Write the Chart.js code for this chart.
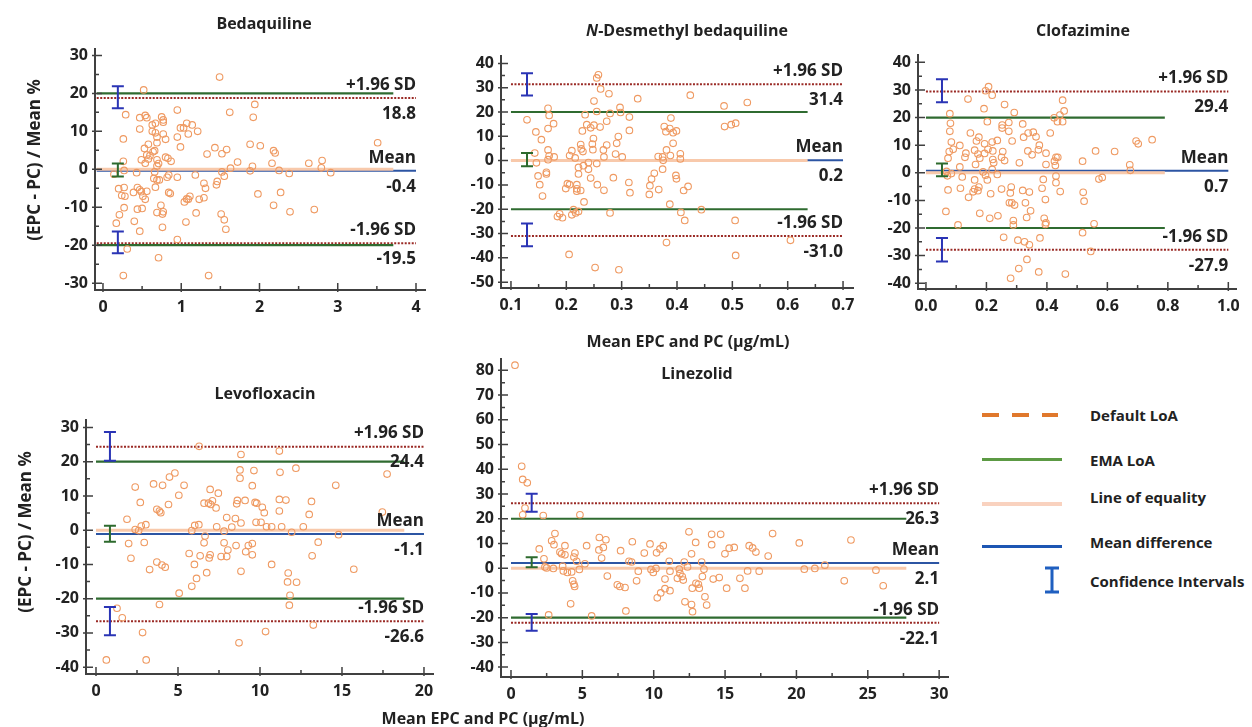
<!DOCTYPE html>
<html>
<head>
<meta charset="utf-8">
<script src="https://cdn.jsdelivr.net/npm/chart.js@4"></script>
<style>
  body { margin:0; background:#fff; width:1252px; height:727px; position:relative; overflow:hidden;
         font-family:"Open Sans","DejaVu Sans",sans-serif; color:#222; }
  canvas { position:absolute; }
  .t  { position:absolute; font-weight:700; font-size:16px; white-space:nowrap; transform:translate(-50%,-50%); }
  .yt { position:absolute; font-weight:700; font-size:17px; white-space:nowrap; transform:translate(-50%,-50%) rotate(-90deg); }
  .ln { position:absolute; left:982px; width:80px; height:3px; }
  .lt { position:absolute; left:1090px; font-weight:700; font-size:15px; white-space:nowrap; transform:translateY(-50%); }
</style>
</head>
<body>
<canvas id="bdq"></canvas>
<canvas id="ndb"></canvas>
<canvas id="cfz"></canvas>
<canvas id="lfx"></canvas>
<canvas id="lzd"></canvas>

<div class="t" style="left:264px;top:23px">Bedaquiline</div>
<div class="t" style="left:687px;top:30px"><i>N</i>-Desmethyl bedaquiline</div>
<div class="t" style="left:1083px;top:30px">Clofazimine</div>
<div class="t" style="left:265px;top:393px">Levofloxacin</div>
<div class="t" style="left:688px;top:341px">Mean EPC and PC (μg/mL)</div>
<div class="t" style="left:697px;top:373px">Linezolid</div>
<div class="t" style="left:483px;top:718px">Mean EPC and PC (μg/mL)</div>
<div class="yt" style="left:33px;top:160px">(EPC - PC) / Mean %</div>
<div class="yt" style="left:24px;top:532px">(EPC - PC) / Mean %</div>

<!-- legend -->
<div class="ln" style="top:413px;width:76px;height:4px;background:repeating-linear-gradient(90deg,#e0782c 0 17px,transparent 17px 30px)"></div>
<div class="ln" style="top:458px;background:#5c9a44"></div>
<div class="ln" style="top:502px;height:4px;background:#f9d2bf"></div>
<div class="ln" style="top:545px;background:#1d56b3"></div>
<svg style="position:absolute;left:1044px;top:566px" width="16" height="28">
  <path d="M1 2H15M8 2V26M1 26H15" stroke="#1f5fc0" stroke-width="3" fill="none"/>
</svg>
<div class="lt" style="top:415px">Default LoA</div>
<div class="lt" style="top:460px">EMA LoA</div>
<div class="lt" style="top:497px">Line of equality</div>
<div class="lt" style="top:542px">Mean difference</div>
<div class="lt" style="top:581px">Confidence Intervals</div>

<script>
/* ===== data ===== */
const limitNames = ['+1.96 SD', 'Mean', '-1.96 SD'];
const emaLimits = [20, -20];

const bdqPoints = [[1.49,24.3],[0.52,20.9],[0.29,14.4],[0.47,13.6],[0.54,14.2],[0.56,13.6],[0.95,15.6],[1.62,15.0],[1.94,17.1],[1.92,13.7],[0.75,13.8],[0.77,13.0],[0.77,12.4],[0.67,12.1],[0.63,11.7],[1.07,12.1],[1.14,11.7],[0.99,10.9],[1.03,10.9],[1.21,10.0],[0.47,10.6],[0.63,10.0],[0.67,9.6],[0.77,9.3],[0.95,8.5],[1.09,9.3],[0.26,8.0],[0.80,7.9],[0.69,8.5],[0.69,7.0],[0.58,6.6],[3.51,7.0],[1.88,6.6],[2.01,6.2],[0.99,5.9],[1.43,5.7],[1.58,5.2],[2.18,4.9],[2.20,4.3],[0.53,5.5],[0.66,4.9],[0.64,4.6],[0.56,3.8],[0.60,3.6],[0.58,2.7],[1.33,4.0],[1.52,4.1],[0.80,3.2],[0.83,2.9],[0.87,2.1],[0.26,2.1],[0.49,2.5],[0.54,1.6],[0.69,2.5],[0.71,1.5],[0.69,0.9],[1.72,1.9],[2.16,1.6],[2.63,1.6],[2.80,2.3],[1.91,0.8],[1.88,-0.4],[1.63,0.3],[2.79,0.4],[2.25,-0.3],[2.91,-0.9],[2.38,-1.1],[0.14,-1.3],[0.43,-0.9],[0.66,-0.7],[1.52,-0.7],[1.55,-1.8],[1.18,-1.5],[0.84,-1.5],[0.82,-2.1],[0.95,-2.1],[0.65,-2.4],[0.69,-2.8],[0.72,-2.8],[0.27,-0.3],[1.29,-3.7],[1.31,-5.0],[1.46,-3.2],[1.45,-4.1],[0.67,-4.7],[0.20,-5.1],[0.27,-4.8],[0.44,-4.8],[0.47,-5.4],[0.49,-5.9],[0.39,-6.1],[0.56,-5.8],[0.84,-6.1],[0.86,-6.4],[0.28,-7.1],[0.24,-6.9],[0.51,-7.1],[0.54,-7.9],[1.11,-7.1],[1.07,-7.8],[1.04,-8.6],[1.09,-7.9],[1.29,-7.5],[1.23,-7.9],[1.98,-6.5],[2.27,-6.1],[0.74,-9.5],[2.18,-9.5],[0.27,-10.1],[0.44,-10.5],[0.50,-10.3],[0.69,-11.4],[0.77,-11.2],[0.76,-11.8],[1.19,-11.5],[1.51,-11.8],[2.39,-11.2],[2.70,-10.6],[0.21,-12.0],[1.55,-13.3],[1.06,-13.9],[0.40,-13.7],[0.17,-14.2],[0.76,-15.3],[1.57,-15.8],[0.47,-16.3],[0.95,-18.5],[0.31,-21.0],[0.71,-23.3],[0.26,-28.0],[1.35,-28.0]];
const bdqLimits = [18.8, -0.4, -19.5];
const bdqCI = [[16.1, 21.9], [-1.9, 1.5], [-22.1, -16.4]];
const bdqXTicks = [0, 1, 2, 3, 4];
const bdqYTicks = [-30, -20, -10, 0, 10, 20, 30];

const ndbPoints = [[0.258,35.3],[0.255,34.0],[0.262,29.5],[0.277,27.5],[0.329,25.5],[0.424,26.9],[0.25,24.5],[0.485,22.5],[0.527,23.9],[0.167,21.5],[0.297,21.9],[0.255,20.2],[0.279,19.4],[0.298,19.8],[0.169,18.6],[0.234,18.9],[0.129,16.8],[0.314,17.9],[0.389,17.5],[0.273,16.2],[0.177,15.2],[0.167,13.2],[0.237,14.8],[0.25,14.6],[0.261,13.8],[0.244,13.5],[0.229,12.2],[0.377,14.0],[0.387,13.2],[0.486,14.0],[0.498,14.8],[0.506,15.4],[0.314,12.4],[0.38,11.9],[0.393,11.5],[0.399,12.2],[0.145,11.8],[0.155,8.6],[0.249,9.1],[0.294,9.9],[0.291,7.1],[0.226,6.6],[0.247,6.8],[0.273,6.4],[0.393,7.1],[0.227,4.8],[0.23,3.7],[0.248,4.5],[0.267,4.4],[0.167,4.4],[0.21,4.1],[0.381,4.4],[0.143,3.1],[0.169,2.0],[0.206,2.1],[0.178,1.5],[0.216,1.1],[0.268,1.5],[0.289,2.7],[0.301,1.5],[0.366,1.7],[0.374,1.5],[0.388,2.1],[0.406,2.8],[0.167,0.4],[0.375,0.1],[0.406,0.7],[0.255,-1.2],[0.24,-0.8],[0.146,-0.9],[0.222,-2.8],[0.231,-2.1],[0.164,-4.8],[0.164,-5.5],[0.24,-3.6],[0.374,-3.5],[0.222,-5.5],[0.359,-5.2],[0.244,-7.2],[0.149,-6.3],[0.285,-7.0],[0.398,-6.1],[0.399,-7.5],[0.354,-7.6],[0.152,-9.9],[0.256,-9.9],[0.202,-9.5],[0.206,-9.9],[0.219,-9.9],[0.313,-9.0],[0.315,-13.2],[0.219,-11.6],[0.219,-12.6],[0.226,-12.3],[0.199,-11.5],[0.268,-12.2],[0.367,-11.9],[0.351,-10.3],[0.412,-12.3],[0.42,-10.6],[0.35,-13.9],[0.157,-14.6],[0.232,-17.0],[0.387,-17.9],[0.444,-20.2],[0.213,-20.2],[0.222,-20.9],[0.217,-21.5],[0.21,-22.3],[0.188,-21.9],[0.193,-23.5],[0.184,-23.0],[0.279,-21.5],[0.407,-21.3],[0.414,-24.6],[0.505,-24.6],[0.381,-33.7],[0.605,-32.8],[0.205,-38.6],[0.506,-39.0],[0.252,-44.0],[0.295,-44.9]];
const ndbLimits = [31.4, 0.2, -31.0];
const ndbCI = [[26.8, 35.9], [-2.3, 3.1], [-35.2, -25.9]];
const ndbXTicks = [0.1, 0.2, 0.3, 0.4, 0.5, 0.6, 0.7];
const ndbYTicks = [-50, -40, -30, -20, -10, 0, 10, 20, 30, 40];

const cfzPoints = [[0.207,31.2],[0.197,29.7],[0.219,28.1],[0.139,26.7],[0.452,26.3],[0.26,24.7],[0.192,23.2],[0.457,22.4],[0.079,21.4],[0.292,21.8],[0.443,20.9],[0.424,19.9],[0.435,18.5],[0.452,18.5],[0.081,17.9],[0.203,18.5],[0.274,18.2],[0.32,17.7],[0.252,17.3],[0.252,16.2],[0.079,15.0],[0.147,14.4],[0.274,15.0],[0.323,12.9],[0.338,14.4],[0.355,14.7],[0.364,13.0],[0.411,14.4],[0.175,12.9],[0.167,11.5],[0.236,11.7],[0.219,11.1],[0.084,11.1],[0.112,9.9],[0.194,10.5],[0.285,11.5],[0.375,10.0],[0.695,11.5],[0.702,10.5],[0.748,12.0],[0.09,8.5],[0.077,7.7],[0.161,8.2],[0.205,8.5],[0.221,7.9],[0.194,7.0],[0.372,8.3],[0.337,7.9],[0.132,7.1],[0.254,7.7],[0.172,6.8],[0.178,5.3],[0.129,5.6],[0.073,5.3],[0.351,6.5],[0.397,7.1],[0.561,7.9],[0.624,7.7],[0.25,5.6],[0.26,4.4],[0.221,4.8],[0.224,3.6],[0.309,3.6],[0.164,3.0],[0.397,3.0],[0.43,5.6],[0.436,5.6],[0.425,4.2],[0.428,2.6],[0.518,4.2],[0.674,2.9],[0.676,0.9],[0.112,2.1],[0.219,1.2],[0.068,0.5],[0.084,-0.3],[0.189,0.3],[0.197,-0.9],[0.071,-1.1],[0.236,-0.6],[0.12,-1.5],[0.203,-2.6],[0.43,-1.2],[0.43,-3.6],[0.572,-2.3],[0.583,-1.7],[0.388,-2.4],[0.161,-2.6],[0.161,-5.9],[0.175,-5.2],[0.172,-6.5],[0.156,-6.9],[0.073,-6.2],[0.114,-5.6],[0.25,-5.9],[0.282,-5.2],[0.32,-6.4],[0.384,-5.6],[0.342,-7.0],[0.279,-7.3],[0.214,-7.6],[0.444,-6.8],[0.52,-7.1],[0.141,-8.9],[0.395,-9.7],[0.523,-10.3],[0.276,-10.9],[0.284,-10.9],[0.329,-10.9],[0.293,-11.7],[0.346,-13.8],[0.333,-16.2],[0.066,-14.0],[0.178,-14.7],[0.238,-15.6],[0.211,-16.5],[0.391,-16.5],[0.289,-17.3],[0.397,-18.1],[0.289,-18.9],[0.395,-18.7],[0.556,-18.5],[0.106,-18.9],[0.518,-21.7],[0.257,-23.4],[0.304,-24.4],[0.377,-23.6],[0.326,-25.0],[0.342,-26.1],[0.545,-28.5],[0.334,-31.4],[0.307,-34.7],[0.373,-35.9],[0.28,-38.2],[0.461,-36.7]];
const cfzLimits = [29.4, 0.7, -27.9];
const cfzCI = [[25.5, 33.9], [-1.3, 3.4], [-32.1, -23.6]];
const cfzXTicks = [0, 0.2, 0.4, 0.6, 0.8, 1.0];
const cfzYTicks = [-40, -30, -20, -10, 0, 10, 20, 30, 40];

const lfxPoints = [[6.29,24.5],[8.84,22.1],[11.18,23.1],[8.78,17.6],[9.63,17.4],[11.22,16.9],[12.19,18.1],[17.75,16.4],[4.81,16.7],[4.48,15.5],[8.78,15.2],[5.37,13.1],[3.51,13.5],[4.06,13.1],[2.39,12.6],[9.53,13.0],[14.62,13.1],[6.96,11.9],[7.46,10.8],[5.05,10.2],[4.42,7.5],[2.7,8.1],[3.71,6.1],[3.87,5.6],[3.95,5.1],[6.59,7.9],[6.86,7.9],[7.0,7.5],[7.1,8.6],[7.32,6.5],[8.62,8.7],[8.58,7.7],[9.09,8.7],[9.7,8.1],[9.8,7.9],[10.14,6.7],[10.26,5.1],[11.18,9.0],[11.58,8.8],[11.18,5.6],[13.14,8.4],[13.0,4.6],[17.46,5.3],[1.89,3.2],[6.02,1.4],[6.27,1.6],[3.04,1.6],[2.76,1.2],[2.39,0.2],[2.6,-0.1],[5.84,-0.1],[7.36,1.0],[7.97,3.7],[8.28,0.9],[7.81,-0.3],[8.5,3.4],[8.84,2.1],[9.76,2.3],[10.06,2.3],[10.4,1.0],[10.71,1.0],[11.32,1.0],[11.93,-0.6],[12.64,1.0],[14.79,-1.3],[6.65,-1.7],[6.59,-3.7],[7.81,-3.7],[8.04,-5.8],[8.54,-4.5],[9.29,-4.5],[9.53,-3.9],[9.13,-6.3],[13.55,-3.5],[1.99,-3.9],[2.94,-3.6],[5.68,-6.8],[6.35,-7.5],[6.96,-7.2],[6.9,-8.1],[7.63,-7.7],[7.97,-7.7],[9.53,-7.2],[13.18,-7.5],[2.13,-8.2],[6.0,-10.0],[6.13,-14.1],[6.75,-12.4],[3.71,-9.3],[4.02,-10.2],[4.22,-10.8],[3.27,-11.5],[8.84,-12.0],[10.71,-10.0],[11.72,-12.5],[11.68,-15.1],[12.23,-15.2],[15.72,-11.4],[5.84,-16.4],[5.07,-18.4],[11.83,-19.0],[11.79,-21.9],[3.87,-21.7],[1.28,-22.8],[1.6,-25.6],[2.84,-29.9],[10.34,-29.6],[13.25,-27.7],[8.72,-32.9],[0.63,-37.9],[3.06,-37.9]];
const lfxLimits = [24.4, -1.1, -26.6];
const lfxCI = [[20.3, 28.7], [-3.4, 1.3], [-30.7, -22.4]];
const lfxXTicks = [0, 5, 10, 15, 20];
const lfxYTicks = [-40, -30, -20, -10, 0, 10, 20, 30];

const lzdPoints = [[0.28,82.1],[0.75,41.2],[0.82,35.9],[1.14,34.5],[0.98,24.3],[0.82,21.6],[2.26,21.3],[4.83,21.6],[1.98,7.8],[3.08,14.0],[2.85,11.1],[3.01,9.5],[3.43,6.5],[3.55,5.8],[3.78,9.1],[3.78,5.4],[4.48,6.1],[4.41,4.5],[4.6,2.8],[5.3,9.1],[5.18,1.8],[2.31,3.8],[2.38,0.5],[2.5,0.1],[2.97,-0.1],[3.62,0.8],[3.67,-1.1],[3.95,-1.7],[4.25,-1.5],[4.79,-0.5],[4.32,-5.1],[4.41,-6.5],[4.46,-7.4],[4.18,-14.4],[2.64,-18.9],[5.65,-19.3],[6.19,12.4],[6.65,11.5],[6.16,7.4],[6.47,8.4],[6.35,4.1],[6.75,-3.2],[7.68,7.1],[8.27,2.8],[8.5,10.7],[8.45,2.5],[7.45,-6.7],[7.63,-7.4],[7.99,-7.8],[8.05,-17.3],[8.92,-1.2],[8.8,-5.1],[9.34,6.1],[9.74,9.8],[9.81,-0.5],[9.97,-1.7],[10.2,6.2],[10.44,7.8],[10.67,9.1],[10.16,-0.1],[10.79,-4.4],[11.09,2.8],[11.14,-1.2],[10.79,-8.3],[11.14,-9.1],[10.49,-10.0],[10.25,-12.0],[11.79,-0.4],[11.84,-2.1],[11.66,-4.1],[12.0,-3.4],[12.07,-4.8],[12.14,2.5],[12.19,-13.6],[12.47,14.7],[12.65,5.8],[12.37,0.5],[12.7,-8.1],[12.96,-6.1],[13.13,-6.5],[12.94,10.4],[12.65,-14.7],[12.72,-17.6],[13.19,-8.1],[13.36,2.5],[13.52,-0.4],[13.41,-3.4],[13.59,-11.6],[13.71,-14.9],[14.06,13.7],[14.06,9.5],[14.17,-4.4],[14.59,-3.8],[14.69,13.7],[14.99,5.8],[15.29,8.1],[15.64,8.4],[15.11,-8.1],[16.04,-4.1],[16.39,-8.1],[16.58,-1.1],[16.69,9.1],[16.93,8.2],[17.16,6.5],[17.39,-1.2],[18.02,4.9],[18.33,14.0],[20.2,10.2],[20.55,-0.4],[21.29,-0.1],[21.99,1.2],[23.35,-5.1],[23.82,11.4],[25.57,-0.8],[26.08,-7.1]];
const lzdLimits = [26.3, 2.1, -22.1];
const lzdCI = [[22.8, 30.1], [0.4, 4.4], [-25.3, -18.5]];
const lzdXTicks = [0, 5, 10, 15, 20, 25, 30];
const lzdYTicks = [-40, -30, -20, -10, 0, 10, 20, 30, 40, 50, 60, 70, 80];

/* ===== drawing ===== */
const FONT = '"Open Sans", "DejaVu Sans", sans-serif';
const AXIS = '#404040';
const PT = 10, PR = 10, YW = 55, XH = 36;

const seg = (y, x0, x1, color, w, dash) => ({
  data: [{ x: x0, y }, { x: x1, y }],
  showLine: true, borderColor: color, borderWidth: w, borderDash: dash || [],
  pointRadius: 0, order: 2,
});

// CI bars, limit labels, inward tick marks
const decor = {
  id: 'decor',
  afterDatasetsDraw(chart, args, o) {
    const { ctx, scales: { x, y } } = chart;
    ctx.save();
    o.ci.forEach(([lo, hi], i) => {
      const px = x.getPixelForValue(o.ciX);
      const y1 = y.getPixelForValue(lo), y2 = y.getPixelForValue(hi);
      ctx.strokeStyle = i === 1 ? '#2d6a2d' : '#2a34b5';
      ctx.lineWidth = 2;
      ctx.beginPath();
      ctx.moveTo(px, y1); ctx.lineTo(px, y2);
      ctx.moveTo(px - 6, y1); ctx.lineTo(px + 6, y1);
      ctx.moveTo(px - 6, y2); ctx.lineTo(px + 6, y2);
      ctx.stroke();
    });
    ctx.font = 'bold 17px ' + FONT;
    ctx.fillStyle = '#222';
    ctx.textAlign = 'right';
    ctx.textBaseline = 'middle';
    const tx = x.getPixelForValue(o.labelX);
    o.limits.forEach((v, i) => {
      const py = y.getPixelForValue(v);
      ctx.fillText(limitNames[i], tx, py - 13);
      ctx.fillText(v.toFixed(1), tx, py + 16);
    });
    ctx.restore();
  },
  afterDraw(chart) {
    const { ctx, chartArea: a, scales: { x, y } } = chart;
    ctx.save();
    ctx.strokeStyle = AXIS;
    ctx.lineWidth = 1.5;
    ctx.beginPath();
    const xv = x.ticks.map(t => t.value), yv = y.ticks.map(t => t.value);
    xv.forEach((v, i) => {
      const p = x.getPixelForValue(v);
      ctx.moveTo(p, a.bottom + 2); ctx.lineTo(p, a.bottom - 7);
      if (i < xv.length - 1) {
        const m = x.getPixelForValue((v + xv[i + 1]) / 2);
        ctx.moveTo(m, a.bottom); ctx.lineTo(m, a.bottom - 4);
      }
    });
    yv.forEach((v, i) => {
      const p = y.getPixelForValue(v);
      ctx.moveTo(a.left - 3, p); ctx.lineTo(a.left + 7, p);
      if (i < yv.length - 1) {
        const m = y.getPixelForValue((v + yv[i + 1]) / 2);
        ctx.moveTo(a.left, m); ctx.lineTo(a.left + 4, m);
      }
    });
    ctx.stroke();
    ctx.restore();
  },
};

function baChart(c) {
  const el = document.getElementById(c.id);
  const [l, t, r, b] = c.box;
  el.style.left = (l - YW) + 'px';
  el.style.top = (t - PT) + 'px';
  el.width = r - l + YW + PR;
  el.height = b - t + PT + XH;

  const tickFont = { family: FONT, size: 16, weight: 'bold' };
  return new Chart(el.getContext('2d'), {
    type: 'scatter',
    data: {
      datasets: [
        {
          data: c.points.map(([x, y]) => ({ x, y })),
          pointStyle: 'circle', pointRadius: 3.3, borderWidth: 1.1,
          borderColor: '#ef9a62', backgroundColor: 'rgba(0,0,0,0)', order: 0,
        },
        seg(0, c.start, c.emaEnd, '#f8c9ab', 3),
        seg(emaLimits[0], c.start, c.emaEnd, '#2f6b30', 2.2),
        seg(emaLimits[1], c.start, c.emaEnd, '#2f6b30', 2.2),
        seg(c.limits[0], c.start, c.labelX, '#9a2a25', 2, [2, 1.5]),
        seg(c.limits[2], c.start, c.labelX, '#9a2a25', 2, [2, 1.5]),
        seg(c.limits[1], c.start, c.labelX, '#2c55a3', 2),
      ],
    },
    options: {
      responsive: false,
      animation: false,
      layout: { padding: { top: PT, right: PR, left: 0, bottom: 0 } },
      plugins: {
        legend: { display: false },
        tooltip: { enabled: false },
        decor: { ci: c.ci, ciX: c.ciX, limits: c.limits, labelX: c.labelX },
      },
      scales: {
        x: {
          type: 'linear', min: c.x[0], max: c.x[1],
          afterBuildTicks: s => { s.ticks = c.xTicks.map(v => ({ value: v })); },
          afterFit: s => { s.height = XH; },
          grid: { drawOnChartArea: false, drawTicks: false },
          border: { color: AXIS, width: 2 },
          ticks: { padding: 8, color: '#222', font: tickFont, maxRotation: 0, autoSkip: false,
                   callback: v => v.toFixed(c.xDec) },
        },
        y: {
          type: 'linear', min: c.y[0], max: c.y[1],
          afterBuildTicks: s => { s.ticks = c.yTicks.map(v => ({ value: v })); },
          afterFit: s => { s.width = YW; },
          grid: { drawOnChartArea: false, drawTicks: false },
          border: { color: AXIS, width: 2 },
          ticks: { padding: 7, color: '#222', font: tickFont, autoSkip: false },
        },
      },
    },
    plugins: [decor],
  });
}

baChart({ id: 'bdq', box: [95, 42, 425, 290], x: [-0.102, 4.115], y: [-31.8, 31.8], xDec: 0,
  xTicks: bdqXTicks, yTicks: bdqYTicks, points: bdqPoints, limits: bdqLimits, ci: bdqCI,
  ciX: 0.19, start: -0.08, emaEnd: 3.71, labelX: 4.0 });

baChart({ id: 'ndb', box: [501, 49, 853, 288], x: [0.082, 0.718], y: [-52.4, 43.2], xDec: 1,
  xTicks: ndbXTicks, yTicks: ndbYTicks, points: ndbPoints, limits: ndbLimits, ci: ndbCI,
  ciX: 0.129, start: 0.1, emaEnd: 0.636, labelX: 0.7 });

baChart({ id: 'cfz', box: [918, 48, 1238, 289], x: [-0.0263, 1.0263], y: [-42.1, 42.8], xDec: 1,
  xTicks: cfzXTicks, yTicks: cfzYTicks, points: cfzPoints, limits: cfzLimits, ci: cfzCI,
  ciX: 0.053, start: 0, emaEnd: 0.79, labelX: 1.0 });

baChart({ id: 'lfx', box: [86, 413, 433, 674], x: [-0.61, 20.55], y: [-42, 32.3], xDec: 0,
  xTicks: lfxXTicks, yTicks: lfxYTicks, points: lfxPoints, limits: lfxLimits, ci: lfxCI,
  ciX: 0.85, start: 0, emaEnd: 18.8, labelX: 20 });

baChart({ id: 'lzd', box: [501, 352, 948, 677], x: [-0.7, 30.62], y: [-44, 84.75], xDec: 0,
  xTicks: lzdXTicks, yTicks: lzdYTicks, points: lzdPoints, limits: lzdLimits, ci: lzdCI,
  ciX: 1.45, start: 0, emaEnd: 27.7, labelX: 30 });
</script>
</body>
</html>
